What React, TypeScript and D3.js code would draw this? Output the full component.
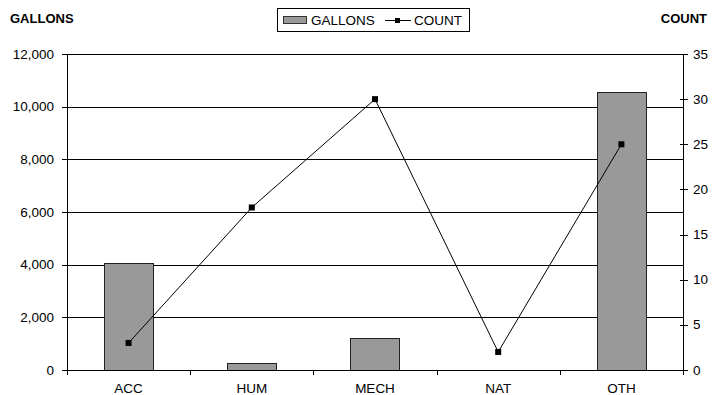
import React from "react";
import * as d3 from "d3";

const categories = ["ACC", "HUM", "MECH", "NAT", "OTH"];
const gallons = [4070, 260, 1200, 0, 10560];
const counts = [3, 18, 30, 2, 25];
const leftTicks = [0, 2000, 4000, 6000, 8000, 10000, 12000];
const rightTicks = [0, 5, 10, 15, 20, 25, 30, 35];

const W = 713;
const H = 395;
const M = { left: 67, right: 683, top: 54, bottom: 370 };
const FONT = "'Liberation Sans', Arial, sans-serif";

export default function App() {
  const x = d3.scaleBand<string>().domain(categories).range([M.left, M.right]).paddingInner(0).paddingOuter(0);
  const yL = d3.scaleLinear().domain([0, 12000]).range([M.bottom, M.top]);
  const yR = d3.scaleLinear().domain([0, 35]).range([M.bottom, M.top]);
  const bw = x.bandwidth() * 0.4;
  const fmt = d3.format(",");
  const line = d3
    .line<number>()
    .x((_, i) => (x(categories[i]) as number) + x.bandwidth() / 2)
    .y((d) => yR(d));
  const snap = (v: number) => Math.round(v) + 0.5;

  return (
    <div style={{ position: "absolute", left: 0, top: 0 }}>
      <svg width={W} height={H} style={{ display: "block", background: "#fff" }} fontFamily={FONT}>
        {/* titles */}
        <text x={10} y={23} fontSize={13} fontWeight="bold">GALLONS</text>
        <text x={707} y={23} fontSize={13} fontWeight="bold" textAnchor="end">COUNT</text>

        {/* legend */}
        <rect x={277.5} y={8.5} width={192} height={23} fill="#fff" stroke="#000" />
        <rect x={283.5} y={16.5} width={23} height={7} fill="#999999" stroke="#333" />
        <text x={311} y={25} fontSize={13.5}>GALLONS</text>
        <line x1={385} x2={411} y1={20.5} y2={20.5} stroke="#000" />
        <rect x={395} y={18} width={5} height={5} fill="#000" />
        <text x={414} y={25} fontSize={13.5}>COUNT</text>

        {/* gridlines */}
        {leftTicks.filter((t) => t > 0).map((t) => (
          <line key={"g" + t} x1={M.left} x2={M.right} y1={snap(yL(t))} y2={snap(yL(t))} stroke="#000" strokeWidth={1} />
        ))}

        {/* bars */}
        {gallons.map((g, i) => {
          const cx = (x(categories[i]) as number) + x.bandwidth() / 2;
          if (g <= 0) return null;
          return (
            <rect
              key={"b" + i}
              x={Math.round(cx - bw / 2) + 0.5}
              y={Math.round(yL(g)) + 0.5}
              width={Math.round(bw)}
              height={Math.round(yL(0)) - Math.round(yL(g))}
              fill="#999999"
              stroke="#222"
              strokeWidth={1}
            />
          );
        })}

        {/* left axis */}
        <line x1={M.left + 0.5} x2={M.left + 0.5} y1={M.top} y2={M.bottom} stroke="#000" />
        {leftTicks.map((t) => (
          <g key={"l" + t}>
            <line x1={M.left - 5} x2={M.left} y1={snap(yL(t))} y2={snap(yL(t))} stroke="#000" />
            <text x={54} y={yL(t) + 4.5} fontSize={13.5} textAnchor="end">{fmt(t)}</text>
          </g>
        ))}

        {/* right axis */}
        <line x1={M.right + 0.5} x2={M.right + 0.5} y1={M.top} y2={M.bottom} stroke="#000" />
        {rightTicks.map((t) => (
          <g key={"r" + t}>
            <line x1={M.right - 3} x2={M.right + 5} y1={snap(yR(t))} y2={snap(yR(t))} stroke="#000" />
            <text x={693} y={yR(t) + 4.5} fontSize={13.5}>{t}</text>
          </g>
        ))}

        {/* x axis */}
        <line x1={M.left} x2={M.right + 1} y1={M.bottom + 0.5} y2={M.bottom + 0.5} stroke="#000" />
        {categories.map((c) => (
          <g key={"x" + c}>
            <line
              x1={snap(x(c) as number)}
              x2={snap(x(c) as number)}
              y1={M.bottom}
              y2={M.bottom + 5}
              stroke="#000"
            />
            <text x={(x(c) as number) + x.bandwidth() / 2} y={393} fontSize={13.5} textAnchor="middle">{c}</text>
          </g>
        ))}
        <line x1={M.right + 0.5} x2={M.right + 0.5} y1={M.bottom} y2={M.bottom + 5} stroke="#000" />

        {/* count line */}
        <path d={line(counts) || ""} fill="none" stroke="#000" strokeWidth={1} />
        {counts.map((c, i) => (
          <rect
            key={"m" + i}
            x={(x(categories[i]) as number) + x.bandwidth() / 2 - 3}
            y={yR(c) - 3}
            width={6}
            height={6}
            fill="#000"
          />
        ))}
      </svg>
    </div>
  );
}
